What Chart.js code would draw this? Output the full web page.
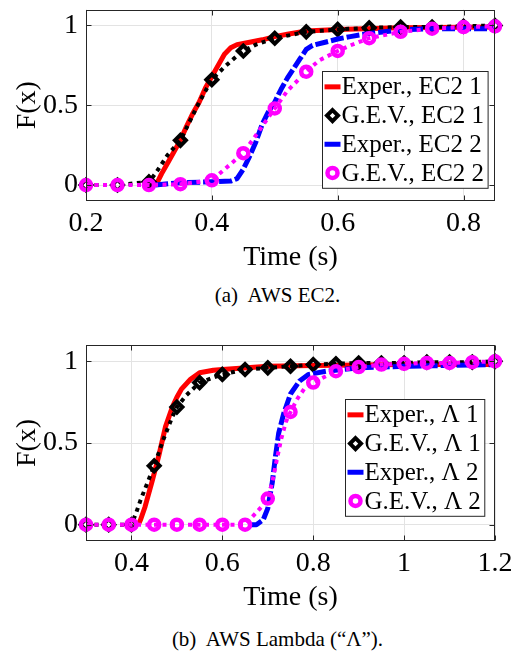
<!DOCTYPE html>
<html>
<head>
<meta charset="utf-8">
<script src="https://cdn.jsdelivr.net/npm/chart.js@4.4.1/dist/chart.umd.min.js"></script>
<style>
  body { margin: 0; background: #fff; width: 523px; height: 655px; position: relative; overflow: hidden; font-family: "Liberation Serif", serif; }
  canvas { position: absolute; left: 0; }
  #c1 { top: 0; }
  #c2 { top: 320px; }
  .cap { position: absolute; left: 16px; width: 523px; text-align: center; font-size: 21px; line-height: 24px; white-space: pre; color: #000; }
</style>
</head>
<body>
<canvas id="c1" width="523" height="280"></canvas>
<div class="cap" style="top:283px">(a)  AWS EC2.</div>
<canvas id="c2" width="523" height="300"></canvas>
<div class="cap" style="top:627px">(b)  AWS Lambda (“Λ”).</div>
<script>
// --- shared ticks ---
const yTicks = [0, 0.5, 1];

// --- (a) AWS EC2 ---
const ec2XTicks = [0.2, 0.4, 0.6, 0.8];
const ec2Labels = ["Exper., EC2 1", "G.E.V., EC2 1", "Exper., EC2 2", "G.E.V., EC2 2"];

const ec2Exp1X = [0.31, 0.315, 0.32, 0.33, 0.34, 0.35, 0.36, 0.37, 0.38, 0.39, 0.40, 0.41, 0.42, 0.43, 0.44, 0.46, 0.48, 0.50, 0.52, 0.55, 0.60, 0.70, 0.85];
const ec2Exp1Y = [0, 0.03, 0.07, 0.14, 0.21, 0.28, 0.37, 0.45, 0.52, 0.61, 0.68, 0.75, 0.82, 0.86, 0.88, 0.895, 0.91, 0.93, 0.945, 0.965, 0.975, 0.985, 0.99];

const ec2Gev1X = [0.20, 0.25, 0.30, 0.31, 0.32, 0.33, 0.34, 0.35, 0.36, 0.37, 0.38, 0.39, 0.40, 0.42, 0.44, 0.45, 0.47, 0.50, 0.55, 0.60, 0.65, 0.70, 0.75, 0.80, 0.85];
const ec2Gev1Y = [0, 0, 0.02, 0.07, 0.13, 0.19, 0.235, 0.28, 0.36, 0.44, 0.52, 0.59, 0.66, 0.74, 0.81, 0.84, 0.88, 0.92, 0.96, 0.975, 0.985, 0.99, 0.99, 0.995, 1.0];

const ec2Exp2X = [0.31, 0.35, 0.40, 0.43, 0.44, 0.45, 0.46, 0.47, 0.48, 0.49, 0.50, 0.51, 0.52, 0.53, 0.54, 0.55, 0.56, 0.58, 0.60, 0.62, 0.65, 0.70, 0.75, 0.85];
const ec2Exp2Y = [0, 0.015, 0.02, 0.025, 0.04, 0.10, 0.18, 0.27, 0.38, 0.46, 0.52, 0.60, 0.67, 0.73, 0.79, 0.85, 0.875, 0.895, 0.915, 0.93, 0.95, 0.972, 0.98, 0.98];

const ec2Gev2X = [0.20, 0.25, 0.30, 0.35, 0.40, 0.45, 0.50, 0.52, 0.55, 0.57, 0.60, 0.62, 0.65, 0.70, 0.75, 0.80, 0.85];
const ec2Gev2Y = [0, 0, 0, 0.005, 0.03, 0.20, 0.48, 0.59, 0.71, 0.78, 0.84, 0.875, 0.92, 0.96, 0.98, 0.99, 0.995];

// --- (b) AWS Lambda ---
const lamXTicks = [0.4, 0.6, 0.8, 1, 1.2];
const lamLabels = ["Exper., Λ 1", "G.E.V., Λ 1", "Exper., Λ 2", "G.E.V., Λ 2"];

const lamExp1X = [0.415, 0.42, 0.43, 0.445, 0.46, 0.475, 0.49, 0.50, 0.51, 0.53, 0.55, 0.58, 0.60, 0.70, 0.80, 1.0, 1.2];
const lamExp1Y = [0, 0.03, 0.11, 0.26, 0.42, 0.60, 0.72, 0.78, 0.83, 0.89, 0.93, 0.945, 0.95, 0.97, 0.975, 0.98, 0.98];

const lamGev1X = [0.30, 0.35, 0.40, 0.41, 0.42, 0.43, 0.44, 0.45, 0.46, 0.47, 0.48, 0.49, 0.50, 0.52, 0.55, 0.60, 0.65, 0.70, 0.75, 0.80, 0.85, 0.90, 0.95, 1.00, 1.05, 1.10, 1.15, 1.20];
const lamGev1Y = [0, 0, 0, 0.07, 0.15, 0.22, 0.29, 0.36, 0.44, 0.52, 0.59, 0.66, 0.72, 0.79, 0.87, 0.92, 0.95, 0.96, 0.97, 0.98, 0.985, 0.99, 0.99, 0.99, 0.995, 0.995, 0.995, 1.0];

const lamExp2X = [0.66, 0.675, 0.69, 0.70, 0.71, 0.717, 0.724, 0.735, 0.75, 0.77, 0.79, 0.83, 0.90, 1.0, 1.2];
const lamExp2Y = [0, 0, 0.03, 0.10, 0.26, 0.42, 0.56, 0.68, 0.80, 0.88, 0.92, 0.94, 0.96, 0.97, 0.98];

const lamGev2X = [0.30, 0.35, 0.40, 0.45, 0.50, 0.55, 0.60, 0.65, 0.67, 0.69, 0.70, 0.71, 0.72, 0.73, 0.74, 0.75, 0.765, 0.78, 0.80, 0.85, 0.90, 0.95, 1.00, 1.05, 1.10, 1.15, 1.20];
const lamGev2Y = [0, 0, 0, 0, 0, 0, 0, 0, 0.06, 0.12, 0.16, 0.26, 0.40, 0.53, 0.63, 0.69, 0.77, 0.83, 0.87, 0.94, 0.965, 0.98, 0.985, 0.99, 0.99, 0.995, 1.0];

const FONT = "'Liberation Serif', 'Times New Roman', serif";

function pts(xs, ys) { return xs.map((x, i) => ({ x: x, y: ys[i] })); }
function onGrid(x) { return Math.abs(x * 20 - Math.round(x * 20)) < 1e-6; }

// styles: exper lines are plain, G.E.V. get markers every 0.05 s
const styles = [
  { kind: "line", color: "#ff0000", width: 5, dash: [], order: 4 },
  { kind: "diamond", color: "#000000", width: 4, dash: [4, 4.5], order: 3 },
  { kind: "line", color: "#0000ff", width: 5, dash: [13, 3], order: 2 },
  { kind: "circle", color: "#ff00ff", width: 4, dash: [4, 4.5], order: 1 }
];

function makeDataset(label, xs, ys, st) {
  const ds = {
    label: label,
    data: pts(xs, ys),
    kind: st.kind,
    showLine: true,
    borderColor: st.color,
    borderWidth: st.width,
    borderDash: st.dash,
    borderCapStyle: "butt",
    borderJoinStyle: "round",
    tension: 0,
    order: st.order,
    clip: false,
    pointRadius: 0,
    pointHoverRadius: 0
  };
  if (st.kind === "diamond") {
    ds.pointStyle = "rectRot";
    ds.pointRadius = c => (c.raw && onGrid(c.raw.x)) ? 5.5 : 0;
    ds.pointBorderWidth = 4;
    ds.pointBorderColor = st.color;
    ds.pointBackgroundColor = "rgba(0,0,0,0)";
  }
  if (st.kind === "circle") {
    ds.pointStyle = "circle";
    ds.pointRadius = c => (c.raw && onGrid(c.raw.x)) ? 5 : 0;
    ds.pointBorderWidth = 4.5;
    ds.pointBorderColor = st.color;
    ds.pointBackgroundColor = "rgba(0,0,0,0)";
  }
  return ds;
}

// box round the axes with inward ticks (MATLAB look)
const axesBox = {
  id: "axesBox",
  afterDatasetsDraw(chart) {
    const ctx = chart.ctx, a = chart.chartArea;
    const L = Math.round(a.left) + 0.5, R = Math.round(a.right) - 0.5;
    const T = Math.round(a.top) + 0.5, B = Math.round(a.bottom) - 0.5;
    ctx.save();
    ctx.strokeStyle = "#262626";
    ctx.lineWidth = 1;
    ctx.beginPath();
    chart.scales.x.ticks.forEach(t => {
      const px = Math.round(chart.scales.x.getPixelForValue(t.value)) + 0.5;
      ctx.moveTo(px, B); ctx.lineTo(px, B - 5);
      ctx.moveTo(px, T); ctx.lineTo(px, T + 5);
    });
    chart.scales.y.ticks.forEach(t => {
      const py = Math.round(chart.scales.y.getPixelForValue(t.value)) + 0.5;
      ctx.moveTo(L, py); ctx.lineTo(L + 5, py);
      ctx.moveTo(R, py); ctx.lineTo(R - 5, py);
    });
    ctx.stroke();
    ctx.strokeRect(L, T, R - L, B - T);
    ctx.restore();
  }
};

// legend box drawn inside the axes
const boxLegend = {
  id: "boxLegend",
  afterDraw(chart, args, opts) {
    const ctx = chart.ctx, a = chart.chartArea;
    const rows = chart.data.datasets;
    ctx.save();
    ctx.font = "25px " + FONT;
    const tw = Math.max(...rows.map(d => ctx.measureText(d.label).width));
    const w = 2 + 16 + 1 + tw + 4;
    const h = opts.rowH * rows.length + 2;
    const x0 = Math.round(a.right - opts.right - w) + 0.5;
    const y0 = Math.round(a.bottom - opts.bottom - h) + 0.5;
    ctx.fillStyle = "#fff";
    ctx.fillRect(x0, y0, w, h);
    ctx.strokeStyle = "#262626";
    ctx.lineWidth = 1;
    ctx.strokeRect(x0, y0, w, h);
    rows.forEach((d, i) => {
      const cy = y0 + 1 + opts.rowH * (i + 0.5);
      const sx = x0 + 2, ex = sx + 16, mx = (sx + ex) / 2;
      ctx.setLineDash([]);
      if (d.kind === "line") {
        ctx.strokeStyle = d.borderColor;
        ctx.lineWidth = 5;
        ctx.beginPath(); ctx.moveTo(sx, cy); ctx.lineTo(ex, cy); ctx.stroke();
      } else if (d.kind === "diamond") {
        ctx.strokeStyle = d.borderColor;
        ctx.lineWidth = 4;
        ctx.beginPath();
        ctx.moveTo(mx, cy - 5.5); ctx.lineTo(mx + 5.5, cy); ctx.lineTo(mx, cy + 5.5); ctx.lineTo(mx - 5.5, cy);
        ctx.closePath(); ctx.stroke();
      } else {
        ctx.strokeStyle = d.borderColor;
        ctx.lineWidth = 4.5;
        ctx.beginPath(); ctx.arc(mx, cy, 5, 0, Math.PI * 2); ctx.stroke();
      }
      ctx.fillStyle = "#000";
      ctx.textBaseline = "middle";
      ctx.textAlign = "left";
      ctx.fillText(d.label, ex + 1, cy + 1);
    });
    ctx.restore();
  }
};

function noPad(s) { s.paddingTop = 0; s.paddingBottom = 0; s.paddingLeft = 0; s.paddingRight = 0; }

function makeChart(id, xMin, xMax, xTicks, labels, series, padTop, legendPos) {
  const datasets = series.map((s, i) => makeDataset(labels[i], s[0], s[1], styles[i]));
  return new Chart(document.getElementById(id), {
    type: "scatter",
    data: { datasets: datasets },
    plugins: [axesBox, boxLegend],
    options: {
      responsive: false,
      animation: false,
      devicePixelRatio: 1,
      layout: { padding: { top: padTop, right: 28, bottom: 0, left: 0 } },
      plugins: {
        legend: { display: false },
        tooltip: { enabled: false },
        boxLegend: legendPos
      },
      scales: {
        x: {
          type: "linear",
          min: xMin,
          max: xMax,
          afterBuildTicks: s => { s.ticks = xTicks.map(v => ({ value: v })); },
          afterFit: s => { s.height = 79; noPad(s); },
          grid: { color: "#e3e3e3", lineWidth: 1, drawTicks: false },
          border: { display: false },
          ticks: { autoSkip: false, maxRotation: 0, padding: 6, color: "#000", font: { family: FONT, size: 28 }, callback: v => String(v) },
          title: { display: true, text: "Time (s)", color: "#000", font: { family: FONT, size: 28 }, padding: { top: 0, bottom: 6 } }
        },
        y: {
          type: "linear",
          min: -0.1,
          max: 1.1,
          afterBuildTicks: s => { s.ticks = yTicks.map(v => ({ value: v })); },
          afterFit: s => { s.width = 86; noPad(s); },
          grid: { color: "#e3e3e3", lineWidth: 1, drawTicks: false },
          border: { display: false },
          ticks: { padding: 8, color: "#000", font: { family: FONT, size: 28 }, callback: v => String(v) },
          title: { display: true, text: "F(x)", color: "#000", font: { family: FONT, size: 28 }, padding: { top: 11, bottom: 0 } }
        }
      }
    }
  });
}

function drawAll() {
  makeChart("c1", 0.2, 0.85, ec2XTicks, ec2Labels,
    [[ec2Exp1X, ec2Exp1Y], [ec2Gev1X, ec2Gev1Y], [ec2Exp2X, ec2Exp2Y], [ec2Gev2X, ec2Gev2Y]],
    4, { right: 7, bottom: 13, rowH: 28.7 });

  makeChart("c2", 0.3, 1.2, lamXTicks, lamLabels,
    [[lamExp1X, lamExp1Y], [lamGev1X, lamGev1Y], [lamExp2X, lamExp2Y], [lamGev2X, lamGev2Y]],
    25, { right: 11, bottom: 25, rowH: 28.7 });
}

// make sure the serif font is ready before the canvas uses it
Promise.all([
  document.fonts.load("28px 'Liberation Serif'"),
  document.fonts.load("25px 'Liberation Serif'")
]).then(drawAll, drawAll);
</script>
</body>
</html>
